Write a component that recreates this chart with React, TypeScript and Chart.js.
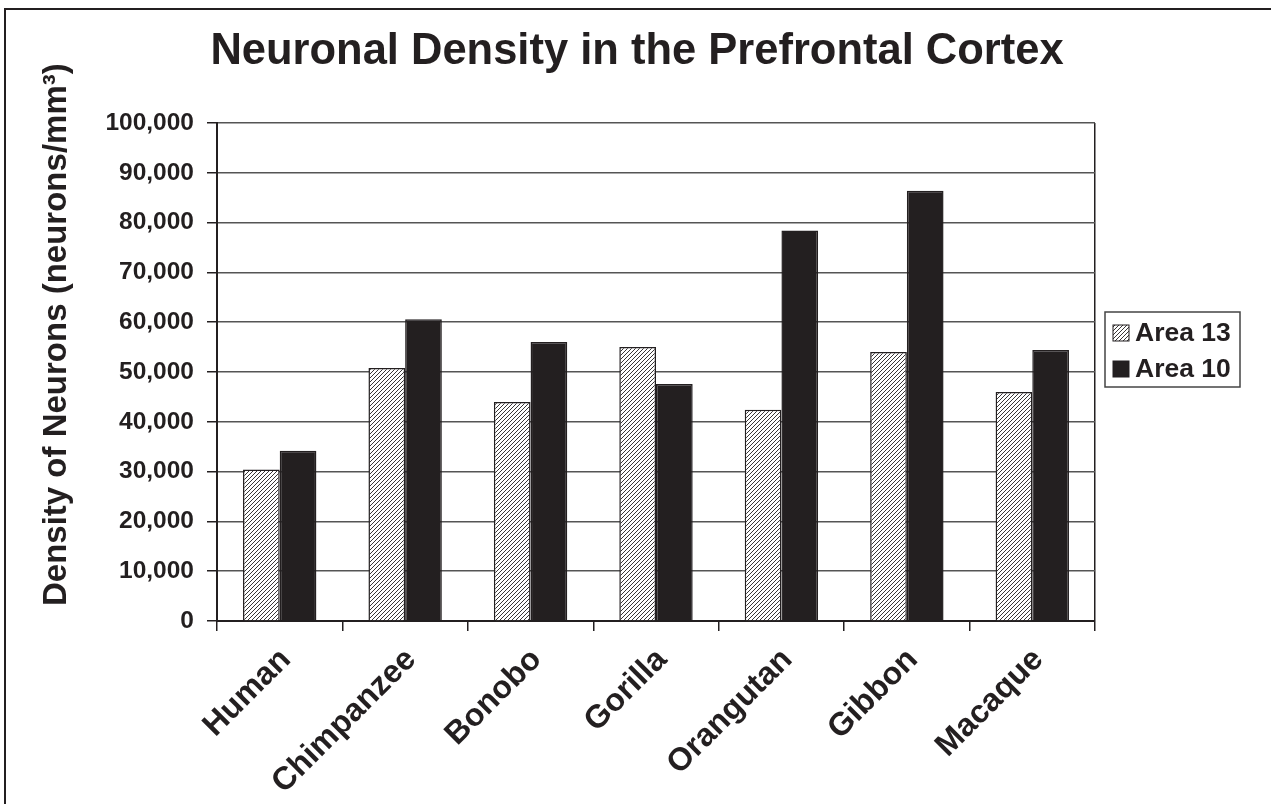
import React, { useEffect, useRef } from 'react';
import { Chart, registerables } from 'chart.js';

Chart.register(...registerables);

// ---------- data ----------
const categories = ['Human', 'Chimpanzee', 'Bonobo', 'Gorilla', 'Orangutan', 'Gibbon', 'Macaque'];
const area13 = [30400, 50800, 44000, 55000, 42400, 54000, 46000];
const area10 = [34200, 60600, 56000, 47600, 78400, 86400, 54400];
const seriesLabels = ['Area 13', 'Area 10'];
const yMin = 0;
const yMax = 100000;
const yStep = 10000;
const chartTitle = 'Neuronal Density in the Prefrontal Cortex';
const yAxisTitle = 'Density of Neurons (neurons/mm³)';

// ---------- styles ----------
const INK = '#231f20';
const GRID = '#555555';
const FONT = '"Liberation Sans", Arial, Helvetica, sans-serif';
const W = 1271;
const H = 804;

function makeHatch(): CanvasPattern | string {
  const c = document.createElement('canvas');
  c.width = 4;
  c.height = 4;
  const g = c.getContext('2d');
  if (!g) return '#888';
  g.fillStyle = '#ffffff';
  g.fillRect(0, 0, 4, 4);
  g.strokeStyle = INK;
  g.lineWidth = 0.9;
  g.beginPath();
  g.moveTo(-1, 5);
  g.lineTo(5, -1);
  g.moveTo(-1, 1);
  g.lineTo(1, -1);
  g.moveTo(3, 5);
  g.lineTo(5, 3);
  g.stroke();
  return g.createPattern(c, 'repeat') || '#888';
}

export default function App() {
  const ref = useRef<HTMLCanvasElement | null>(null);

  useEffect(() => {
    const canvas = ref.current;
    if (!canvas) return;
    const hatch = makeHatch();
    const fills = [hatch, INK];

    const decor = {
      id: 'decor',
      afterDraw(chart: any) {
        const ctx: CanvasRenderingContext2D = chart.ctx;
        ctx.save();
        // outer frame (top + left)
        ctx.strokeStyle = INK;
        ctx.lineWidth = 2;
        ctx.beginPath();
        ctx.moveTo(5, H);
        ctx.lineTo(5, 9);
        ctx.lineTo(W, 9);
        ctx.stroke();

        // title
        ctx.fillStyle = INK;
        ctx.font = `bold 43.5px ${FONT}`;
        ctx.textAlign = 'center';
        ctx.textBaseline = 'alphabetic';
        ctx.fillText(chartTitle, 637, 64);

        // y axis title
        ctx.save();
        ctx.translate(66, 606);
        ctx.rotate(-Math.PI / 2);
        ctx.font = `bold 33px ${FONT}`;
        ctx.textAlign = 'left';
        ctx.fillText(yAxisTitle, 0, 0);
        ctx.restore();

        // legend
        const bx = 1105, by = 312, bw = 135, bh = 75;
        ctx.fillStyle = '#ffffff';
        ctx.fillRect(bx, by, bw, bh);
        ctx.strokeStyle = '#444';
        ctx.lineWidth = 1.5;
        ctx.strokeRect(bx, by, bw, bh);
        const rows = [333, 369];
        chart.data.datasets.forEach((ds: any, i: number) => {
          const cy = rows[i];
          ctx.fillStyle = fills[i] as any;
          ctx.fillRect(1113, cy - 8, 16, 16);
          ctx.strokeStyle = INK;
          ctx.lineWidth = 1;
          ctx.strokeRect(1113, cy - 8, 16, 16);
          ctx.fillStyle = INK;
          ctx.font = `bold 26.5px ${FONT}`;
          ctx.textAlign = 'left';
          ctx.textBaseline = 'middle';
          ctx.fillText(ds.label, 1135, cy + 1);
        });
        ctx.restore();
      },
    };

    const chart = new Chart(canvas, {
      type: 'bar',
      data: {
        labels: categories,
        datasets: [
          {
            label: seriesLabels[0],
            data: area13,
            backgroundColor: hatch as any,
            borderColor: INK,
            borderWidth: 1.5,
            categoryPercentage: 0.585,
            barPercentage: 1,
          },
          {
            label: seriesLabels[1],
            data: area10,
            backgroundColor: INK,
            borderColor: INK,
            borderWidth: 1.5,
            categoryPercentage: 0.585,
            barPercentage: 1,
          },
        ],
      },
      options: {
        responsive: false,
        animation: false,
        devicePixelRatio: 1,
        layout: { padding: { left: 0, top: 123, right: W - 1095, bottom: 0 } },
        plugins: {
          legend: { display: false },
          title: { display: false },
          tooltip: { enabled: false },
        },
        scales: {
          x: {
            afterFit: (scale: any) => {
              scale.height = H - 621;
            },
            grid: {
              offset: true,
              drawOnChartArea: true,
              color: (ctx: any) => (ctx.type === 'tick' ? 'transparent' : INK),
              tickColor: INK,
              tickLength: 10,
              lineWidth: 1.5,
            },
            border: { display: true, color: INK, width: 2 },
            ticks: {
              color: INK,
              font: { family: FONT, size: 32, weight: 'bold' },
              maxRotation: 45,
              minRotation: 45,
              autoSkip: false,
              padding: 10,
              labelOffset: 6,
            },
          },
          y: {
            min: yMin,
            max: yMax,
            afterFit: (scale: any) => {
              scale.width = 217;
            },
            grid: {
              color: GRID,
              lineWidth: 1.5,
              tickColor: INK,
              tickLength: 10,
            },
            border: { display: true, color: INK, width: 2 },
            ticks: {
              stepSize: yStep,
              color: INK,
              padding: 13,
              font: { family: FONT, size: 24.5, weight: 'bold' },
              callback: (v: any) => Number(v).toLocaleString('en-US'),
            },
          },
        },
      },
      plugins: [decor],
    });

    return () => chart.destroy();
  }, []);

  return (
    <div style={{ position: 'absolute', left: 0, top: 0, width: W, height: H, background: '#fff' }}>
      <canvas ref={ref} width={W} height={H} style={{ display: 'block' }} />
    </div>
  );
}
